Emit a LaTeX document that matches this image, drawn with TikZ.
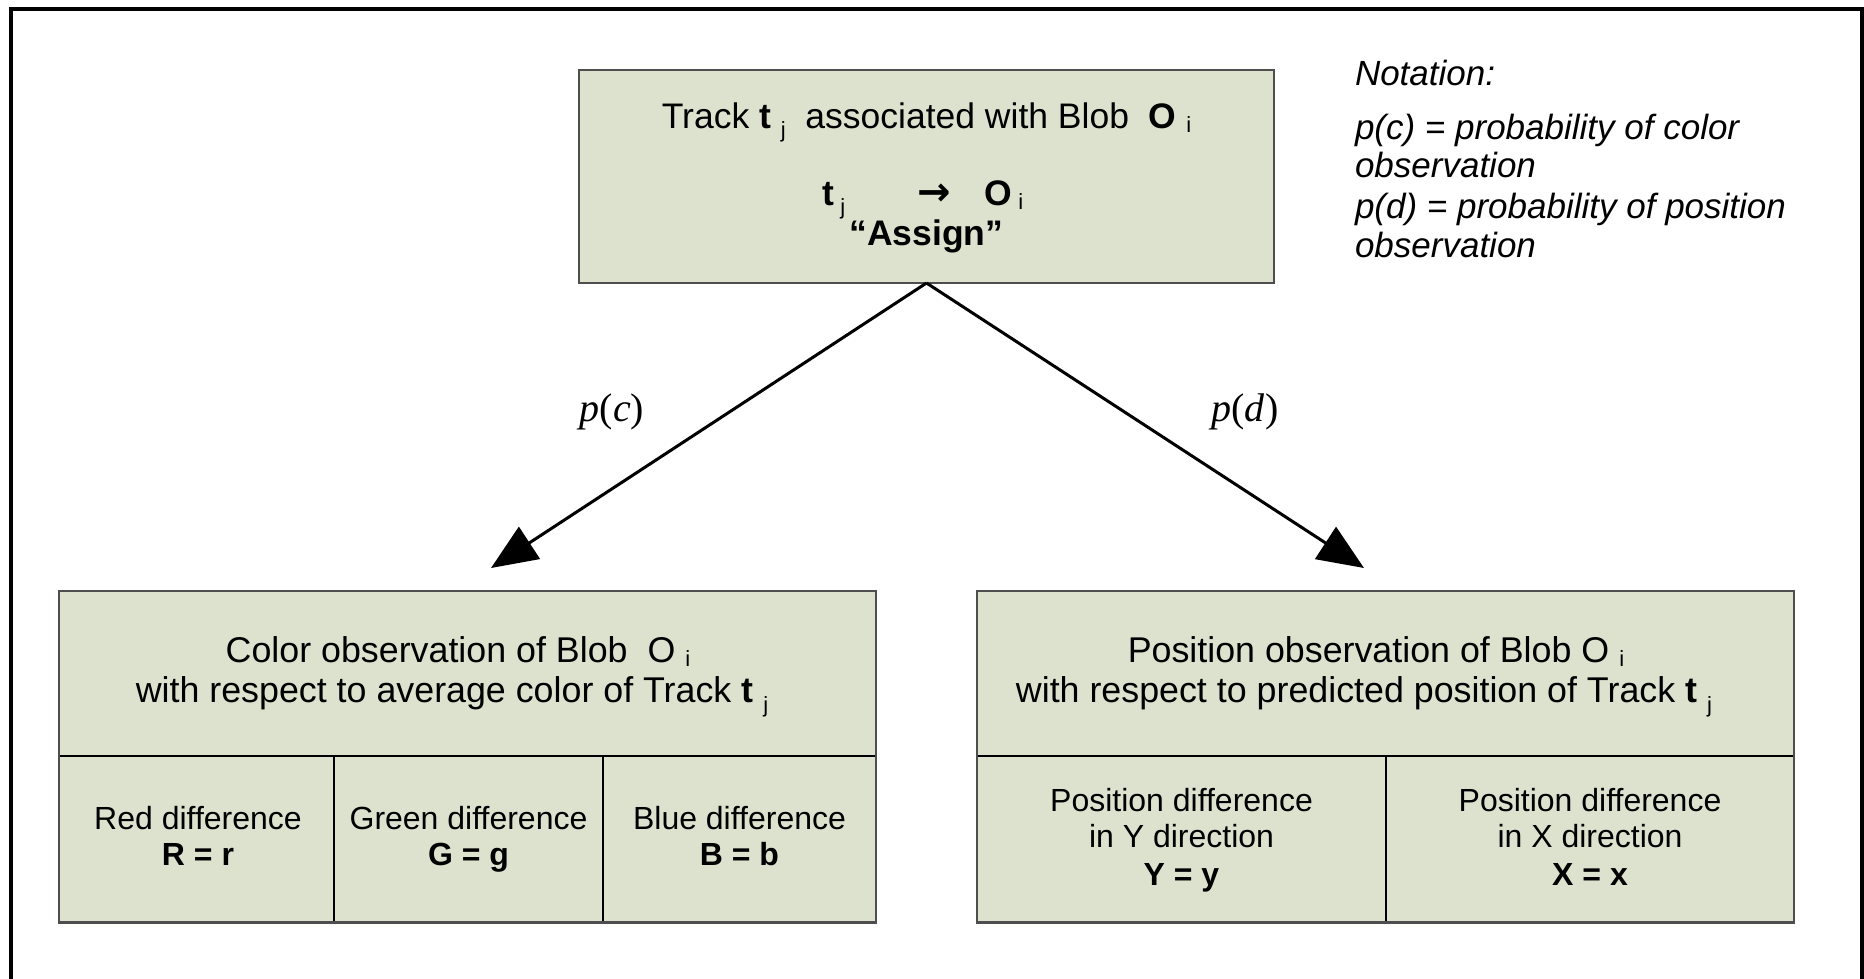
\documentclass[tikz,border=0pt]{standalone}
\usepackage{fontspec}
\setmainfont{Liberation Sans}
\newfontfamily\tnr{Liberation Serif}
\newfontfamily\symfont{DejaVu Sans}
\usetikzlibrary{arrows.meta}
\definecolor{boxfill}{RGB}{221,226,207}
\definecolor{boxline}{RGB}{78,78,78}
% small lowered index letters, as in t_j and O_i
\newcommand{\lowsub}[2][0.3em]{\raisebox{-#1}{\fontsize{22}{22}\selectfont\mdseries #2}}
\newcommand{\subj}{\lowsub[0.28em]{j}}
\newcommand{\subi}{\lowsub[0.12em]{i}}
\begin{document}
\begin{tikzpicture}[x=1pt,y=-1pt,
  every node/.style={inner sep=0pt, outer sep=0pt},
  cellbox/.style={draw=black, line width=1.6pt, fill=boxfill},
  outline/.style={draw=boxline, line width=2.4pt},
  headtxt/.style={font=\fontsize{35.8}{40}\selectfont, anchor=base},
  toptxt/.style={font=\fontsize{35.5}{40}\selectfont, anchor=base},
  celltxt/.style={font=\fontsize{32}{36}\selectfont, anchor=base},
  notetxt/.style={font=\fontsize{35}{40}\selectfont\itshape, anchor=base west},
  plabel/.style={font=\fontsize{40}{40}\selectfont\tnr, anchor=base},
  link/.style={line width=3pt, -{Triangle[length=46pt,width=38pt]}},
  framing/.style={line width=4.5pt}]

\useasboundingbox (0,0) rectangle (1864,978);
\fill[white] (0,0) rectangle (1864,978);

% outer frame (open at the bottom)
\draw[framing] (11,980) -- (11,9) -- (1862,9) -- (1862,980);

% ---- top box: assignment ----
\node[fill=boxfill, outline, minimum width=695pt, minimum height=213pt] (assign) at (926.5,176.5) {};
\node[toptxt] (assignA) at (926.5,128) {Track \textbf{t} \subj\ \ associated with Blob\ \ \textbf{O} \subi};
\node[toptxt] (assignB) at (923,205) {\textbf{t}\,\subj\hspace{72pt}{\symfont\bfseries\fontsize{40}{40}\selectfont →}\hspace{34pt}\textbf{O}\,\subi};
\node[toptxt] (assignC) at (926.5,245) {\textbf{“Assign”}};

% ---- notation ----
\node[notetxt] (notA) at (1355,85) {Notation:};
\node[notetxt] (notB) at (1355,139) {p(c) = probability of color};
\node[notetxt] (notC) at (1355,177) {observation};
\node[notetxt] (notD) at (1355,218) {p(d) = probability of position};
\node[notetxt] (notE) at (1355,257) {observation};

% ---- connectors ----
\coordinate (cTip) at (491,568);
\coordinate (dTip) at (1364,568);
\draw[link] (assign.south) -- (cTip);
\draw[link] (assign.south) -- (dTip);
\node[plabel] (pc) at (612,421) {\textit{p}(\textit{c})};
\node[plabel] (pd) at (1245,421) {\textit{p}(\textit{d})};

% ---- colour observation table ----
\node[cellbox, minimum width=817pt, minimum height=165pt] (colhead) at (467.5,673.5) {};
\node[cellbox, minimum width=275pt, minimum height=166.5pt] (red) at (196.5,839.25) {};
\node[cellbox, minimum width=269pt, minimum height=166.5pt] (green) at (468.5,839.25) {};
\node[cellbox, minimum width=273pt, minimum height=166.5pt] (blue) at (739.5,839.25) {};
\draw[outline] (colhead.north west) rectangle (blue.south east);

\node[headtxt] (colA) at (458,662) {Color observation of Blob\ \ O \subi};
\node[headtxt] (colB) at (452,702) {with respect to average color of Track \textbf{t} \subj};
\node[celltxt] (redA) at (198,829) {Red difference};
\node[celltxt] (redB) at (198,865) {\textbf{R = r}};
\node[celltxt] (greenA) at (468.5,829) {Green difference};
\node[celltxt] (greenB) at (468.5,865) {\textbf{G = g}};
\node[celltxt] (blueA) at (739.5,829) {Blue difference};
\node[celltxt] (blueB) at (739.5,865) {\textbf{B = b}};

% ---- position observation table ----
\node[cellbox, minimum width=817pt, minimum height=165pt] (poshead) at (1385.5,673.5) {};
\node[cellbox, minimum width=409pt, minimum height=166.5pt] (ydiff) at (1181.5,839.25) {};
\node[cellbox, minimum width=408pt, minimum height=166.5pt] (xdiff) at (1590,839.25) {};
\draw[outline] (poshead.north west) rectangle (xdiff.south east);

\node[headtxt] (posA) at (1376,662) {Position observation of Blob O \subi};
\node[headtxt] (posB) at (1364,702) {with respect to predicted position of Track \textbf{t} \subj};
\node[celltxt] (yA) at (1181.5,811) {Position difference};
\node[celltxt] (yB) at (1181.5,847) {in Y direction};
\node[celltxt] (yC) at (1181.5,885) {\textbf{Y = y}};
\node[celltxt] (xA) at (1590,811) {Position difference};
\node[celltxt] (xB) at (1590,847) {in X direction};
\node[celltxt] (xC) at (1590,885) {\textbf{X = x}};
\end{tikzpicture}
\end{document}
